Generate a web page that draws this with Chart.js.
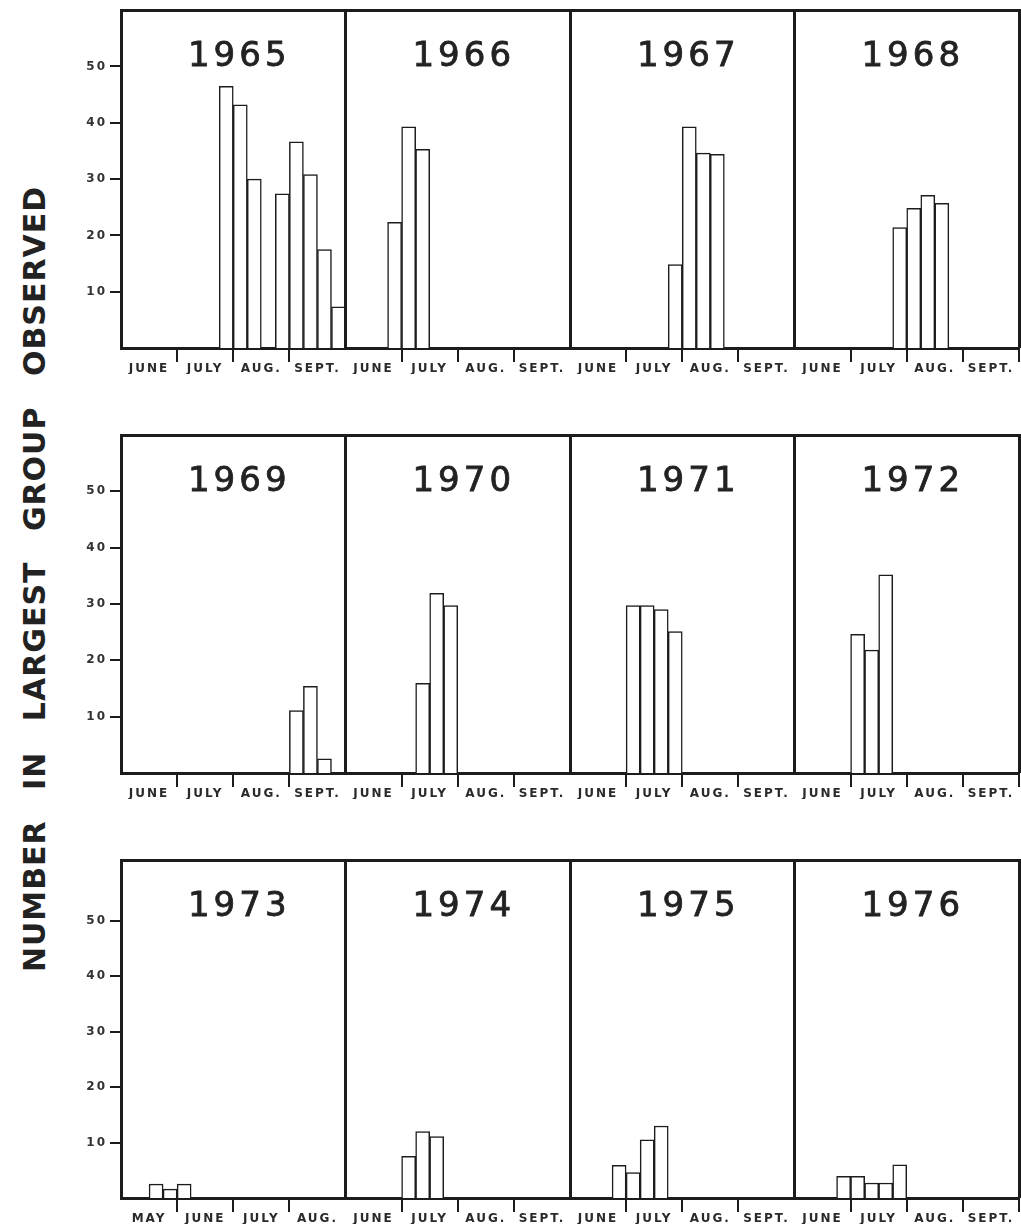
<!DOCTYPE html>
<html>
<head>
<meta charset="utf-8">
<title>Number in largest group observed</title>
<script src="https://cdn.jsdelivr.net/npm/chart.js@4.4.1/dist/chart.umd.min.js"></script>
<style>
  body { margin: 0; background: #fff; }
  #page { position: relative; width: 1021px; height: 1230px; overflow: hidden; }
  canvas { position: absolute; left: 0; }
  .ytitle {
    position: absolute; left: 34px; top: 579px;
    transform: translate(-50%, -50%) rotate(-90deg);
    font: bold 30px "DejaVu Sans"; letter-spacing: 1px; word-spacing: 19px;
    color: #222; white-space: nowrap;
  }
</style>
</head>
<body>
<div id="page">
  <div class="ytitle">NUMBER IN LARGEST GROUP OBSERVED</div>
  <canvas id="row1" width="1021" height="400" style="top:0"></canvas>
  <canvas id="row2" width="1021" height="430" style="top:400px"></canvas>
  <canvas id="row3" width="1021" height="400" style="top:830px"></canvas>
</div>
<script>
// weekly bins, 16 per panel (4 months x 4 weeks), null = no bar
const _ = null;
const obs1965 = [_, _, _, _, _, _, _, 46.5, 43.2, 30, _, 27.4, 36.6, 30.8, 17.5, 7.3];
const obs1966 = [_, _, _, 22.3, 39.3, 35.3, _, _, _, _, _, _, _, _, _, _];
const obs1967 = [_, _, _, _, _, _, _, 14.8, 39.3, 34.6, 34.4, _, _, _, _, _];
const obs1968 = [_, _, _, _, _, _, _, 21.4, 24.8, 27.1, 25.7, _, _, _, _, _];
const obs1969 = [_, _, _, _, _, _, _, _, _, _, _, _, 11.1, 15.4, 2.5, _];
const obs1970 = [_, _, _, _, _, 15.9, 31.9, 29.7, _, _, _, _, _, _, _, _];
const obs1971 = [_, _, _, _, 29.7, 29.7, 29.0, 25.1, _, _, _, _, _, _, _, _];
const obs1972 = [_, _, _, _, 24.6, 21.8, 35.2, _, _, _, _, _, _, _, _, _];
const obs1973 = [_, _, 2.5, 1.6, 2.5, _, _, _, _, _, _, _, _, _, _, _];
const obs1974 = [_, _, _, _, 7.5, 12.0, 11.1, _, _, _, _, _, _, _, _, _];
const obs1975 = [_, _, _, 5.9, 4.6, 10.5, 13.0, _, _, _, _, _, _, _, _, _];
const obs1976 = [_, _, _, 3.9, 3.9, 2.7, 2.7, 6.0, _, _, _, _, _, _, _, _];

const yearsRow1 = ['1965', '1966', '1967', '1968'];
const yearsRow2 = ['1969', '1970', '1971', '1972'];
const yearsRow3 = ['1973', '1974', '1975', '1976'];

const monthsSummer = ['JUNE', 'JULY', 'AUG.', 'SEPT.'];
const months1973 = ['MAY', 'JUNE', 'JULY', 'AUG.'];

const yTicks = [10, 20, 30, 40, 50];
const weeksPerPanel = 16;

const ink = '#1c1c1c';

// year titles inside each panel + letter spacing for the small labels
const yearTitles = {
  id: 'yearTitles',
  beforeDraw(chart) {
    chart.ctx.letterSpacing = '2px';
  },
  afterDatasetsDraw(chart) {
    const s = chart.scales.years;
    const ctx = chart.ctx;
    ctx.save();
    ctx.letterSpacing = '4px';
    ctx.font = '34px "DejaVu Sans"';
    ctx.fillStyle = '#222';
    ctx.strokeStyle = '#222';
    ctx.lineWidth = 0.8;
    ctx.textAlign = 'center';
    ctx.textBaseline = 'middle';
    s.getLabels().forEach((y, i) => {
      const x = s.getPixelForValue(i) + 6;
      const yPos = chart.chartArea.top + 47;
      ctx.fillText(y, x, yPos);
      ctx.strokeText(y, x, yPos);
    });
    ctx.restore();
  }
};

function drawRow(id, years, monthLabels, weekly, yMax, padTop, padBottom) {
  const weekLabels = years.flatMap(y =>
    Array.from({ length: weeksPerPanel }, (v, w) => y + ' w' + (w + 1)));

  new Chart(document.getElementById(id), {
    type: 'bar',
    data: {
      labels: weekLabels,
      datasets: [{
        data: weekly.flat(),
        xAxisID: 'x',
        yAxisID: 'y',
        backgroundColor: '#fff',
        borderColor: ink,
        borderWidth: 1.5,
        barPercentage: 1,
        categoryPercentage: 1
      }]
    },
    options: {
      responsive: false,
      animation: false,
      events: [],
      layout: { padding: { top: padTop, right: 2, bottom: padBottom, left: 81 } },
      plugins: { legend: { display: false }, tooltip: { enabled: false } },
      scales: {
        x: { display: false, offset: true },
        months: {
          type: 'category',
          labels: monthLabels,
          position: 'bottom',
          offset: true,
          grid: {
            offset: true,
            drawOnChartArea: false,
            tickLength: 14,
            lineWidth: 2,
            color: c => (c.index % 4 === 0 ? 'rgba(0,0,0,0)' : ink)
          },
          border: { color: ink, width: 3 },
          ticks: {
            font: { family: 'DejaVu Sans', size: 12, weight: 'bold' },
            color: '#2a2a2a',
            padding: 0,
            maxRotation: 0,
            autoSkip: false
          },
          afterFit: s => { s.height = 26; }
        },
        years: {
          type: 'category',
          labels: years,
          position: 'top',
          offset: true,
          grid: { offset: true, drawTicks: false, lineWidth: 3, color: ink, z: 1 },
          border: { color: ink, width: 3, z: 1 },
          ticks: { display: false },
          afterFit: s => { s.height = 0; }
        },
        y: {
          min: 0,
          max: yMax,
          position: 'left',
          afterBuildTicks: s => { s.ticks = yTicks.map(v => ({ value: v })); },
          grid: { drawOnChartArea: false, tickLength: 11, lineWidth: 2, color: ink },
          border: { color: ink, width: 3 },
          ticks: {
            font: { family: 'DejaVu Sans', size: 12, weight: 'bold' },
            color: '#333',
            padding: 3
          },
          afterFit: s => { s.width = 40; }
        }
      }
    },
    plugins: [yearTitles]
  });
}

drawRow('row1', yearsRow1, [...monthsSummer, ...monthsSummer, ...monthsSummer, ...monthsSummer],
  [obs1965, obs1966, obs1967, obs1968], 60, 10, 26);
drawRow('row2', yearsRow2, [...monthsSummer, ...monthsSummer, ...monthsSummer, ...monthsSummer],
  [obs1969, obs1970, obs1971, obs1972], 60, 35, 31);
drawRow('row3', yearsRow3, [...months1973, ...monthsSummer, ...monthsSummer, ...monthsSummer],
  [obs1973, obs1974, obs1975, obs1976], 61, 30, 6);
</script>
</body>
</html>
